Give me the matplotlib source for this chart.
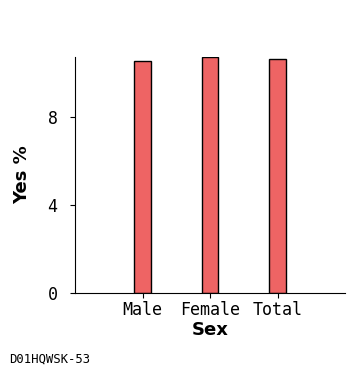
import matplotlib
matplotlib.use("Agg")
import matplotlib.pyplot as plt

categories = ["Male", "Female", "Total"]
yes_pct = [10.55, 10.73, 10.64]
y_ticks = [0, 4, 8]


def report():
    fig = plt.figure(figsize=(3.64, 3.73), dpi=100)
    ax = fig.add_axes([0.206, 0.2145, 0.742, 0.6325])

    ax.bar(range(len(categories)), yes_pct, width=0.24,
           color="#ee6464", edgecolor="black", linewidth=1)

    ax.set_xlim(-1, 3)
    ax.set_ylim(0, max(yes_pct))
    ax.set_xticks(range(len(categories)))
    ax.set_xticklabels(categories, family="DejaVu Sans Mono", fontsize=12)
    ax.set_yticks(y_ticks)
    ax.set_yticklabels([str(t) for t in y_ticks], family="DejaVu Sans Mono", fontsize=12)
    ax.tick_params(axis="y", pad=9)
    ax.tick_params(axis="x", pad=2.5)

    ax.set_xlabel("Sex", fontsize=13, fontweight="bold", labelpad=1.5)
    ax.set_ylabel("Yes %", fontsize=13, fontweight="bold", labelpad=12)

    for side in ["top", "right"]:
        ax.spines[side].set_visible(False)

    fig.text(0.025, 0.027, "D01HQWSK-53", family="DejaVu Sans Mono", fontsize=8.8)
    fig.savefig("out.png", dpi=100)


if __name__ == "__main__":
    report()
